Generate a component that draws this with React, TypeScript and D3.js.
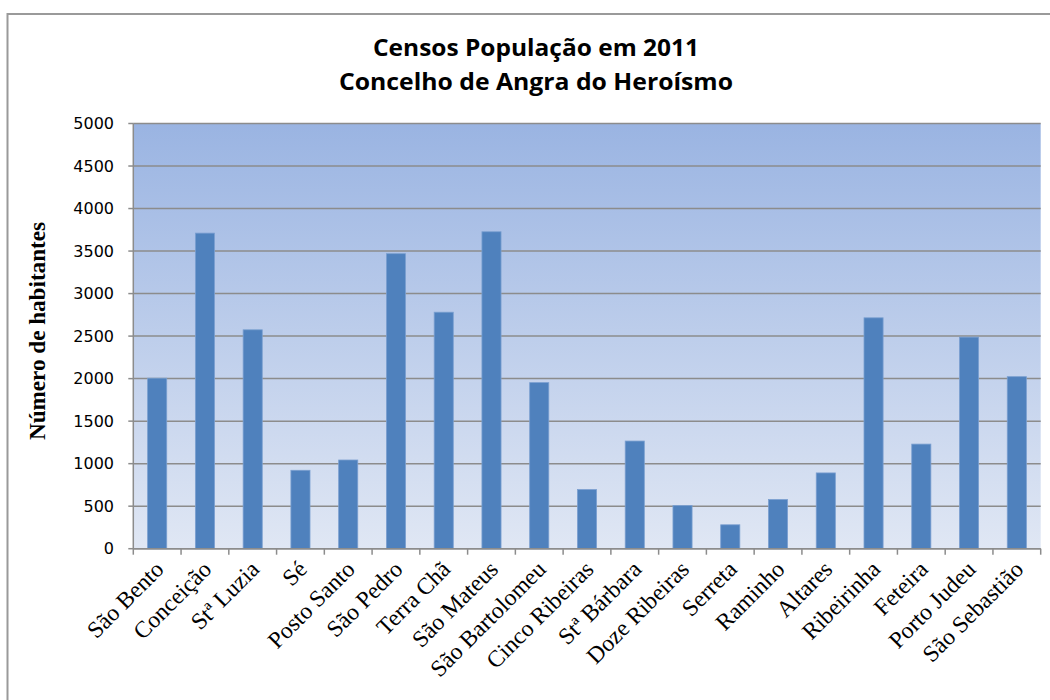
import React from "react";
import * as d3 from "d3";

const categories: string[] = [
  "São Bento", "Conceição", "Stª Luzia", "Sé", "Posto Santo", "São Pedro",
  "Terra Chã", "São Mateus", "São Bartolomeu", "Cinco Ribeiras", "Stª Bárbara",
  "Doze Ribeiras", "Serreta", "Raminho", "Altares", "Ribeirinha", "Feteira",
  "Porto Judeu", "São Sebastião",
];
const populations: number[] = [
  2005, 3711, 2574, 922, 1043, 3469, 2781, 3727, 1953, 695, 1266,
  508, 281, 578, 891, 2715, 1230, 2488, 2023,
];
const yTicks: number[] = [0, 500, 1000, 1500, 2000, 2500, 3000, 3500, 4000, 4500, 5000];
const titleLines: string[] = ["Censos População em 2011", "Concelho de Angra do Heroísmo"];
const yAxisTitle = "Número de habitantes";

const W = 1050;
const H = 700;
const plotLeft = 133.3;
const plotRight = 1040.7;
const plotTop = 123.5;
const plotBottom = 548.7;

export default function App() {
  const x = d3
    .scaleBand<string>()
    .domain(categories)
    .range([plotLeft, plotRight])
    .paddingInner(0.6)
    .paddingOuter(0.3);
  const y = d3.scaleLinear().domain([0, 5000]).range([plotBottom, plotTop]);
  const step = x.step();
  const boundaries = d3.range(categories.length + 1).map((i) => plotLeft + i * step);

  return (
    <svg
      width={W}
      height={H}
      style={{ position: "absolute", left: 0, top: 0, background: "#ffffff" }}
    >
      <defs>
        <linearGradient id="plotBg" x1="0" y1="0" x2="0" y2="1">
          <stop offset="0%" stopColor="#9ab4e2" />
          <stop offset="100%" stopColor="#e0e7f4" />
        </linearGradient>
      </defs>
      {/* outer frame */}
      <rect x={7.5} y={14} width={1100} height={750} fill="#ffffff" stroke="#9a9a9a" strokeWidth={2} />

      {/* title */}
      {titleLines.map((t, i) => (
        <text
          key={t}
          x={536}
          y={56 + i * 33.5}
          textAnchor="middle"
          fontFamily="'Open Sans', 'Liberation Sans', sans-serif"
          fontWeight="bold"
          fontSize={24}
          textLength={i === 0 ? 326 : 394}
          lengthAdjust="spacingAndGlyphs"
          fill="#000"
        >
          {t}
        </text>
      ))}

      {/* plot background */}
      <rect
        x={plotLeft}
        y={plotTop}
        width={plotRight - plotLeft}
        height={plotBottom - plotTop}
        fill="url(#plotBg)"
      />

      {/* gridlines */}
      {yTicks.map((v) => (
        <line
          key={"g" + v}
          x1={plotLeft}
          x2={plotRight}
          y1={y(v)}
          y2={y(v)}
          stroke="#8c8c8c"
          strokeWidth={1.5}
        />
      ))}

      {/* bars */}
      {categories.map((c, i) => (
        <rect
          key={c}
          x={x(c)!}
          y={y(populations[i])}
          width={x.bandwidth()}
          height={plotBottom - y(populations[i])}
          fill="#4f81bd"
          stroke="#7a9fd0"
          strokeWidth={0.8}
        />
      ))}

      {/* axes */}
      <line x1={plotLeft} x2={plotLeft} y1={plotTop} y2={plotBottom} stroke="#8c8c8c" strokeWidth={1.5} />
      <line x1={plotLeft} x2={plotRight} y1={plotBottom} y2={plotBottom} stroke="#8c8c8c" strokeWidth={1.5} />
      {yTicks.map((v) => (
        <g key={"t" + v}>
          <line x1={plotLeft - 5} x2={plotLeft} y1={y(v)} y2={y(v)} stroke="#8c8c8c" strokeWidth={1.5} />
          <text
            x={114}
            y={y(v)}
            dy="0.36em"
            textAnchor="end"
            fontFamily="'DejaVu Sans', Verdana, sans-serif"
            fontSize={16}
            fill="#000"
          >
            {v}
          </text>
        </g>
      ))}
      {boundaries.map((bx, i) => (
        <line key={"xt" + i} x1={bx} x2={bx} y1={plotBottom} y2={plotBottom + 6} stroke="#8c8c8c" strokeWidth={1.5} />
      ))}

      {/* x labels */}
      {categories.map((c) => {
        const cx = x(c)! + x.bandwidth() / 2 + 8;
        const cy = plotBottom + 22;
        return (
          <text
            key={"l" + c}
            transform={`translate(${cx},${cy}) rotate(-45)`}
            textAnchor="end"
            fontFamily="'Liberation Serif', 'Times New Roman', serif"
            fontSize={23.5}
            fill="#000"
          >
            {c}
          </text>
        );
      })}

      {/* y axis title */}
      <text
        transform={`translate(45,331) rotate(-90)`}
        textAnchor="middle"
        fontFamily="'Liberation Serif', 'Times New Roman', serif"
        fontWeight="bold"
        fontSize={24}
        textLength={218}
        lengthAdjust="spacingAndGlyphs"
        fill="#000"
      >
        {yAxisTitle}
      </text>
    </svg>
  );
}
